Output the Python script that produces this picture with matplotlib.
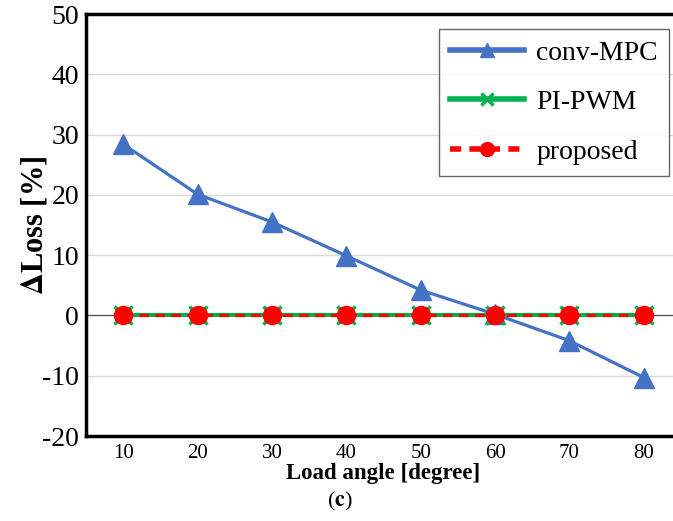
import matplotlib
matplotlib.use('Agg')
import matplotlib.pyplot as plt
from matplotlib.lines import Line2D

# dados
angulos = ['10', '20', '30', '40', '50', '60', '70', '80']
conv_mpc = [28.4, 20.1, 15.5, 9.9, 4.2, 0.2, -4.2, -10.3]
pi_pwm = [0, 0, 0, 0, 0, 0, 0, 0]
proposto = [0, 0, 0, 0, 0, 0, 0, 0]
rotulos_y = ['-20', '-10', '0', '10', '20', '30', '40', '50']

plt.rcParams['font.family'] = ['Liberation Serif', 'DejaVu Serif']
plt.rcParams['mathtext.fontset'] = 'stix'

fig = plt.figure(figsize=(6.73, 5.21), dpi=100)
ax = fig.add_axes([86 / 673, 1 - 436 / 521, (681 - 86) / 673, (436 - 14) / 521])

x = list(range(len(angulos)))

# grade e linha do zero
for v in [-10, 10, 20, 30, 40]:
    ax.axhline(v, color='#d9d9d9', lw=1.0, zorder=0)
ax.axhline(0, color='#595959', lw=1.0, zorder=0)

ax.plot(x, conv_mpc, color='#4472C4', lw=2.3, marker='^', markersize=15, zorder=3)
ax.plot(x, pi_pwm, color='#00B050', lw=3.0, marker='x', markersize=13,
        markeredgewidth=2.5, zorder=4)
ax.plot(x, proposto, color='#FF0000', lw=2.3, ls=(0, (3, 2)), marker='o',
        markersize=13, zorder=5)

ax.set_xlim(-0.5, len(angulos) - 0.5)
ax.set_ylim(-20, 50)
ax.set_xticks(x)
ax.set_xticklabels(angulos, fontsize=15)
ax.set_yticks(range(-20, 51, 10))
ax.set_yticklabels(rotulos_y, fontsize=20)
ax.tick_params(axis='y', length=0, pad=5)
ax.tick_params(axis='x', length=0, pad=6)

ax.spines['right'].set_visible(False)
for s in ['left', 'top', 'bottom']:
    ax.spines[s].set_linewidth(2.5)
    ax.spines[s].set_color('black')

ax.set_ylabel(r'$\mathbf{\Delta}$Loss [%]', fontsize=22, fontweight='bold', labelpad=-5)
ax.set_xlabel('Load angle [degree]', fontsize=16.5, fontweight='bold', labelpad=0)

# legenda com marcadores menores
handles = [
    Line2D([], [], color='#4472C4', lw=4, marker='^', markersize=10),
    Line2D([], [], color='#00B050', lw=4, marker='x', markersize=9, markeredgewidth=2.5),
    Line2D([], [], color='#FF0000', lw=4, ls=(0, (2, 1.5)), marker='o', markersize=10),
]
leg = ax.legend(handles, ['conv-MPC', 'PI-PWM', 'proposed'], loc='upper right',
                bbox_to_anchor=((669 - 86) / (681 - 86), (436 - 29) / (436 - 14)),
                borderaxespad=0, fontsize=20, frameon=True, fancybox=False,
                edgecolor='#404040', handlelength=2.66, handletextpad=0.45,
                labelspacing=0.87, borderpad=0.4)
leg.get_frame().set_linewidth(1.0)

fig.text(340 / 673, 1 - 501 / 521, r'($\mathbf{c}$)', fontsize=16, ha='center', va='center')

fig.savefig('out.png', dpi=100)
